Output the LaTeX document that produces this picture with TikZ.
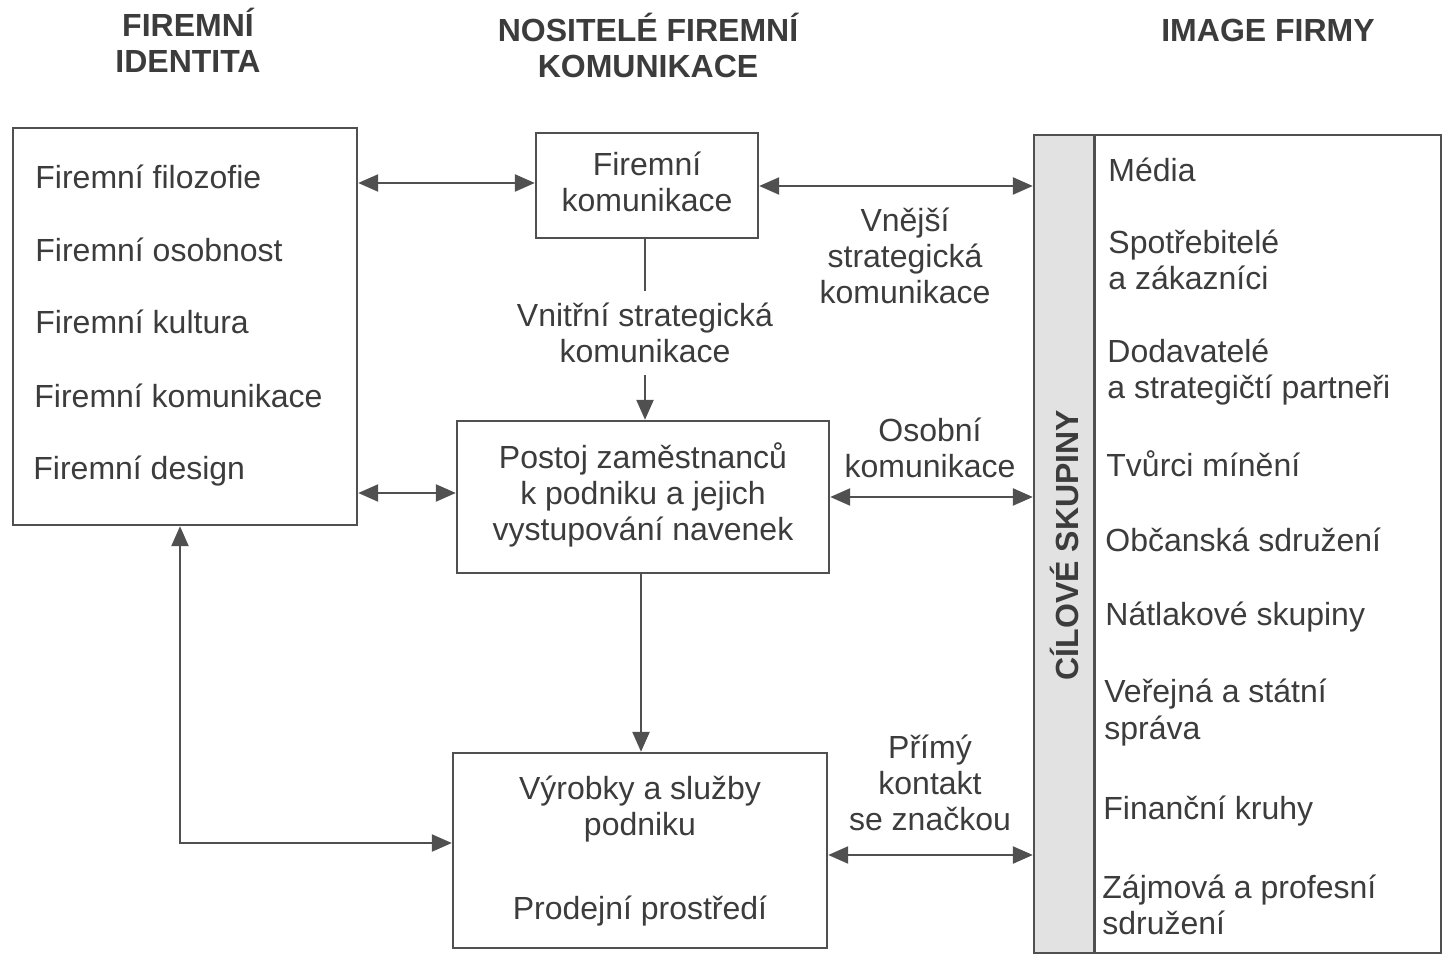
\documentclass[tikz,border=0pt]{standalone}
\usepackage{fontspec}
\setmainfont{Liberation Sans}
\usetikzlibrary{arrows.meta}
\definecolor{ink}{HTML}{3C3C3C}
\definecolor{ln}{HTML}{505050}
\definecolor{bandgrey}{HTML}{E2E2E2}
\begin{document}
\begin{tikzpicture}[x=0.5pt,y=-0.5pt,
  txt/.style={font=\fontsize{16}{18}\selectfont, text=ink, inner sep=0pt, align=left, anchor=base west},
  ctxt/.style={font=\fontsize{16}{18}\selectfont, text=ink, inner sep=0pt, align=center, anchor=base},
  hdr/.style={font=\fontsize{16}{18}\selectfont\bfseries, text=ink, inner sep=0pt, align=center, anchor=base},
  box/.style={draw=ln, line width=1.2pt, inner sep=0pt},
  tip/.tip={Triangle[length=10pt,width=8.5pt]},
  arr/.style={draw=ln, line width=1.2pt, tip-tip},
  arrto/.style={draw=ln, line width=1.2pt, -tip},
  plain/.style={draw=ln, line width=1.2pt}
]
\useasboundingbox (0,0) rectangle (1451,956);

% headers (base anchor = baseline of last line)
\node[hdr] (h1) at (188,73) {FIREMNÍ\\IDENTITA};
\node[hdr] (h2) at (648,78) {NOSITELÉ FIREMNÍ\\KOMUNIKACE};
\node[hdr] (h3) at (1268,42) {IMAGE FIRMY};

% boxes
\node[box, minimum width=172pt, minimum height=198.5pt] (lb) at (185,326.5) {};
\node[box, minimum width=111pt, minimum height=52.5pt] (fk) at (647,185.5) {};
\node[box, minimum width=186pt, minimum height=76pt] (po) at (643,497) {};
\node[box, minimum width=187pt, minimum height=97.5pt] (vy) at (640,850.5) {};
\node[fill=bandgrey, inner sep=0pt, minimum width=30pt, minimum height=409pt] (band) at (1064,544) {};
\node[box, minimum width=203.5pt, minimum height=409pt] (rb) at (1237.5,544) {};
\draw[plain] (band.north east) -- (band.south east);

% left box items
\node[txt] (l1) at (35,189) {Firemní filozofie};
\node[txt] (l2) at (35,262) {Firemní osobnost};
\node[txt] (l3) at (35,334) {Firemní kultura};
\node[txt] (l4) at (34,408) {Firemní komunikace};
\node[txt] (l5) at (33,480) {Firemní design};

% middle box texts
\node[ctxt] (fkt) at (647,212) {Firemní\\komunikace};
\node[ctxt] (pot) at (643,541) {Postoj zaměstnanců\\k podniku a jejich\\vystupování navenek};
\node[ctxt] (vyt1) at (640,835) {Výrobky a služby\\podniku};
\node[ctxt] (vyt2) at (640,919) {Prodejní prostředí};

% right box items
\node[txt] (r1) at (1108,182) {Média};
\node[txt] (r2) at (1108,290) {Spotřebitelé\\a zákazníci};
\node[txt] (r3) at (1107,399) {Dodavatelé\\a strategičtí partneři};
\node[txt] (r4) at (1106,477) {Tvůrci mínění};
\node[txt] (r5) at (1105,552) {Občanská sdružení};
\node[txt] (r6) at (1105,625) {Nátlakové skupiny};
\node[txt] (r7) at (1104,739) {Veřejná a státní\\správa};
\node[txt] (r8) at (1103,819) {Finanční kruhy};
\node[txt] (r9) at (1102,934) {Zájmová a profesní\\sdružení};
\node[font=\fontsize{16}{18}\selectfont\bfseries, text=ink, inner sep=0pt, rotate=90] (cs) at (1064,545) {CÍLOVÉ SKUPINY};

% connector labels
\node[ctxt] (lv) at (905,304) {Vnější\\strategická\\komunikace};
\node[ctxt] (lo) at (930,478) {Osobní\\komunikace};
\node[ctxt] (lp) at (930,830) {Přímý\\kontakt\\se značkou};
\node[font=\fontsize{16}{18}\selectfont, text=ink, align=center, inner sep=6pt] (lvn) at (645,333) {Vnitřní strategická\\komunikace};

% connectors
\draw[arr] (lb.east |- 0,183) -- (fk.west |- 0,183);
\draw[arr] (fk.east |- 0,186) -- (rb.west |- 0,186);
\draw[plain] (fk.south -| 645,0) -- (lvn.north -| 645,0);
\draw[arrto] (lvn.south -| 645,0) -- (po.north -| 645,0);
\draw[arr] (lb.east |- 0,493) -- (po.west |- 0,493);
\draw[arr] (po.east |- 0,497) -- (rb.west |- 0,497);
\draw[arrto] (po.south -| 641,0) -- (vy.north -| 641,0);
\draw[arr] (lb.south -| 180,0) |- (vy.west |- 0,843);
\draw[arr] (vy.east |- 0,855) -- (rb.west |- 0,855);
\end{tikzpicture}
\end{document}
